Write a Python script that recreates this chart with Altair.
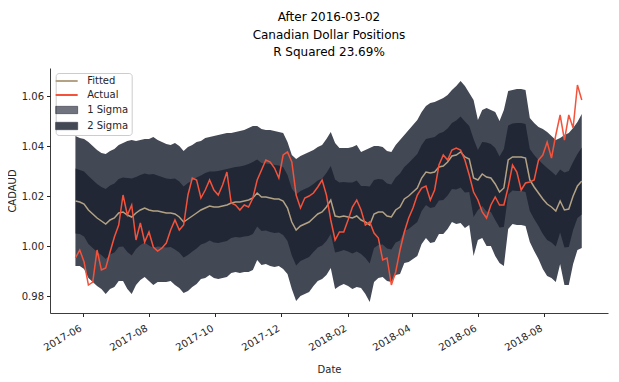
import altair as alt
import pandas as pd

# ---- data (4-day grid starting 2017-05-25) ----
start_date = "2017-05-25"
step_days = "4D"

fitted = [
    1.0180, 1.0176, 1.0168, 1.0144, 1.0128, 1.0112, 1.0100, 1.0088, 1.0104, 1.0112,
    1.0132, 1.0136, 1.0124, 1.0116, 1.0132, 1.0144, 1.0152, 1.0144, 1.0140, 1.0140,
    1.0136, 1.0132, 1.0132, 1.0128, 1.0116, 1.0096, 1.0108, 1.0120, 1.0132, 1.0144,
    1.0152, 1.0160, 1.0156, 1.0156, 1.0160, 1.0164, 1.0172, 1.0176, 1.0176, 1.0180,
    1.0184, 1.0192, 1.0212, 1.0196, 1.0196, 1.0192, 1.0188, 1.0188, 1.0180, 1.0152,
    1.0096, 1.0064, 1.0080, 1.0088, 1.0096, 1.0112, 1.0128, 1.0136, 1.0156, 1.0184,
    1.0120, 1.0116, 1.0120, 1.0116, 1.0112, 1.0120, 1.0104, 1.0096, 1.0084, 1.0128,
    1.0136, 1.0136, 1.0120, 1.0116, 1.0144, 1.0156, 1.0188, 1.0200, 1.0216, 1.0232,
    1.0272, 1.0296, 1.0292, 1.0296, 1.0316, 1.0320, 1.0336, 1.0360, 1.0364, 1.0376,
    1.0356, 1.0348, 1.0272, 1.0264, 1.0288, 1.0276, 1.0272, 1.0248, 1.0216, 1.0232,
    1.0344, 1.0356, 1.0356, 1.0356, 1.0352, 1.0264, 1.0236, 1.0212, 1.0188, 1.0168,
    1.0156, 1.0140, 1.0180, 1.0144, 1.0148, 1.0200, 1.0240, 1.0260,
]

actual = [
    0.9952, 0.9984, 0.9936, 0.9844, 0.9856, 0.9984, 0.9904, 0.9912, 0.9976, 1.0036,
    1.0084, 1.0204, 1.0124, 1.0164, 1.0024, 1.0092, 1.0016, 1.0056, 0.9996, 0.9980,
    0.9992, 1.0012, 1.0064, 1.0104, 1.0064, 1.0084, 1.0204, 1.0272, 1.0264, 1.0192,
    1.0224, 1.0264, 1.0224, 1.0204, 1.0244, 1.0296, 1.0172, 1.0164, 1.0144, 1.0164,
    1.0156, 1.0192, 1.0264, 1.0304, 1.0344, 1.0336, 1.0312, 1.0272, 1.0364, 1.0376,
    1.0336, 1.0204, 1.0152, 1.0192, 1.0200, 1.0212, 1.0236, 1.0264, 1.0204, 1.0104,
    1.0024, 1.0056, 1.0056, 1.0104, 1.0156, 1.0184, 1.0144, 1.0084, 1.0096, 1.0052,
    1.0032, 0.9944, 0.9952, 0.9844, 0.9896, 0.9984, 1.0056, 1.0112, 1.0152, 1.0204,
    1.0232, 1.0240, 1.0184, 1.0224, 1.0324, 1.0364, 1.0344, 1.0384, 1.0392, 1.0384,
    1.0344, 1.0284, 1.0216, 1.0184, 1.0136, 1.0112, 1.0164, 1.0196, 1.0164, 1.0164,
    1.0236, 1.0324, 1.0296, 1.0224, 1.0252, 1.0256, 1.0264, 1.0344, 1.0364, 1.0416,
    1.0352, 1.0444, 1.0524, 1.0424, 1.0524, 1.0472, 1.0644, 1.0584,
]

sigma = [
    0.0130, 0.0128, 0.0130, 0.0136, 0.0136, 0.0136, 0.0136, 0.0140, 0.0138, 0.0138,
    0.0136, 0.0138, 0.0148, 0.0154, 0.0144, 0.0140, 0.0138, 0.0142, 0.0148, 0.0142,
    0.0140, 0.0138, 0.0136, 0.0142, 0.0142, 0.0142, 0.0144, 0.0142, 0.0142, 0.0138,
    0.0140, 0.0138, 0.0142, 0.0144, 0.0144, 0.0144, 0.0140, 0.0140, 0.0142, 0.0142,
    0.0144, 0.0144, 0.0134, 0.0136, 0.0134, 0.0136, 0.0136, 0.0134, 0.0136, 0.0132,
    0.0134, 0.0142, 0.0140, 0.0140, 0.0140, 0.0136, 0.0134, 0.0134, 0.0136, 0.0136,
    0.0146, 0.0138, 0.0136, 0.0138, 0.0142, 0.0142, 0.0136, 0.0144, 0.0154, 0.0136,
    0.0132, 0.0130, 0.0130, 0.0130, 0.0130, 0.0134, 0.0128, 0.0132, 0.0134, 0.0136,
    0.0132, 0.0132, 0.0140, 0.0140, 0.0134, 0.0136, 0.0134, 0.0132, 0.0138, 0.0142,
    0.0142, 0.0132, 0.0156, 0.0120, 0.0128, 0.0138, 0.0136, 0.0144, 0.0142, 0.0156,
    0.0138, 0.0134, 0.0136, 0.0136, 0.0136, 0.0124, 0.0128, 0.0132, 0.0140, 0.0144,
    0.0142, 0.0142, 0.0126, 0.0150, 0.0152, 0.0136, 0.0128, 0.0134,
]

title_lines = ["After 2016-03-02", "Canadian Dollar Positions", "R Squared 23.69%"]
series_names = ["Fitted", "Actual", "1 Sigma", "2 Sigma"]
series_colors = ["#b3a284", "#f4523b", "rgba(11,16,33,0.58)", "#434855"]
y_ticks = [0.98, 1.00, 1.02, 1.04, 1.06]

dates = pd.date_range(start_date, periods=len(fitted), freq=step_days)
df = pd.DataFrame({"Date": dates, "Fitted": fitted, "Actual": actual, "sigma": sigma})
df["lo1"] = df["Fitted"] - df["sigma"]
df["hi1"] = df["Fitted"] + df["sigma"]
df["lo2"] = df["Fitted"] - 2 * df["sigma"]
df["hi2"] = df["Fitted"] + 2 * df["sigma"]

FONT = "DejaVu Sans"

x_enc = alt.X(
    "Date:T",
    title="Date",
    scale=alt.Scale(domain=[alt.DateTime(year=2017, month=5, date=1, hours=12),
                            alt.DateTime(year=2018, month=9, date=29, hours=6)]),
    axis=alt.Axis(
        values=[alt.DateTime(year=y, month=m, date=1) for (y, m) in
                [(2017, 6), (2017, 8), (2017, 10), (2017, 12), (2018, 2), (2018, 4), (2018, 6), (2018, 8)]],
        format="%Y-%m", labelAngle=-30, labelAlign="right", labelBaseline="bottom",
        labelPadding=15, titlePadding=12,
    ),
)
y_scale = alt.Scale(domain=[0.9732, 1.0712], nice=False, zero=False)

is_line = "indexof(['Fitted','Actual'], datum.value) >= 0"
legend = alt.Legend(
    title=None, orient="none", legendX=5.7, legendY=5,
    symbolSize=215, padding=3, labelOffset=18.5, rowPadding=4,
    labelFont=FONT, labelFontSize=10, labelColor="#262626",
    fillColor="rgba(255,255,255,0.85)", strokeColor="#cccccc", cornerRadius=3,
    symbolType=alt.ExprRef(expr=f"{is_line} ? 'M-1.095,0H1.905' : 'M-1.095,-0.5H1.905V0.5H-1.095Z'"),
    symbolStrokeColor=alt.ExprRef(expr="datum.value == 'Fitted' ? '#b8a68b' : (datum.value == 'Actual' ? '#f4523b' : (datum.value == '1 Sigma' ? '#5c606c' : '#2f3441'))"),
    symbolStrokeWidth=alt.ExprRef(expr=f"{is_line} ? 2 : 0.8"),
    symbolOpacity=1,
)
color_enc = alt.Color("series:N", scale=alt.Scale(domain=series_names, range=series_colors), legend=legend)

base = alt.Chart(df)

band2 = base.transform_calculate(series="'2 Sigma'").mark_area(opacity=1).encode(
    x=x_enc, y=alt.Y("lo2:Q", scale=y_scale, title="CADAUD",
                     axis=alt.Axis(values=y_ticks, format=".2f", titlePadding=4)),
    y2="hi2:Q", color=color_enc)
band1 = base.transform_calculate(series="'1 Sigma'").mark_area(opacity=1).encode(
    x=x_enc, y=alt.Y("lo1:Q", scale=y_scale), y2="hi1:Q", color=color_enc)
fit_line = base.transform_calculate(series="'Fitted'").mark_line(strokeWidth=1.5).encode(
    x=x_enc, y=alt.Y("Fitted:Q", scale=y_scale), color=color_enc)
act_line = base.transform_calculate(series="'Actual'").mark_line(strokeWidth=1.5).encode(
    x=x_enc, y=alt.Y("Actual:Q", scale=y_scale), color=color_enc)

chart = alt.layer(band2, band1, fit_line, act_line).properties(
    width=558, height=245,
    title=alt.TitleParams(text=title_lines, fontSize=12, font=FONT, fontWeight="normal",
                          color="#000000", anchor="middle", lineHeight=17.3, offset=9),
    autosize=alt.AutoSizeParams(type="none"),
    padding={"left": 42, "top": 60, "right": 3, "bottom": 61},
).configure_view(stroke=None).configure_axis(
    labelFont=FONT, titleFont=FONT, labelFontSize=10, titleFontSize=10,
    titleFontWeight="normal", labelColor="#262626", titleColor="#262626",
    domainColor="#262626", tickColor="#262626", tickSize=3.5, labelPadding=3,
    grid=False, domainWidth=0.9,
)

chart.save("out.html", embed_options={"renderer": "svg", "actions": False})
